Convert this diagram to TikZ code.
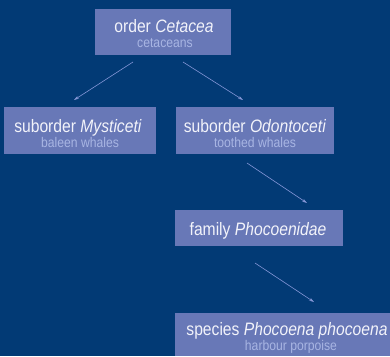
\documentclass[tikz,border=0pt]{standalone}
\usepackage{fontspec}
\setmainfont{Liberation Sans}[FakeStretch=0.87]
\usetikzlibrary{arrows.meta}
\definecolor{bg}{HTML}{023A75}
\definecolor{boxc}{HTML}{6878B7}
\definecolor{subc}{HTML}{A8B5E3}
\definecolor{titc}{HTML}{F2F3FA}
\definecolor{arrc}{HTML}{8496D6}
\tikzset{
  taxbox/.style={fill=boxc, draw=none, rectangle, inner sep=0pt},
  taxtitle/.style={anchor=base, text=titc, font=\fontsize{18}{20}\selectfont, inner sep=0pt},
  taxsub/.style={anchor=base, text=subc, font=\fontsize{14}{16}\selectfont, inner sep=0pt},
  link/.style={draw=arrc, line width=0.6pt, -{Stealth[length=5pt,width=3pt]}}
}
\begin{document}
\begin{tikzpicture}[x=1pt, y=-1pt]
\useasboundingbox (0,0) rectangle (390,356);
\fill[bg] (0,0) rectangle (390,356);
% boxes
\node[taxbox, minimum width=136pt, minimum height=46pt] (order) at (163,32) {};
\node[taxbox, minimum width=152pt, minimum height=47pt] (myst) at (80,130.5) {};
\node[taxbox, minimum width=158pt, minimum height=47pt] (odon) at (255,130.5) {};
\node[taxbox, minimum width=168pt, minimum height=36pt] (fam) at (259,228) {};
\node[taxbox, minimum width=224pt, minimum height=43pt] (spec) at (287,334.5) {};
% texts
\node[taxtitle] (ordert) at (164,32) {order \textit{Cetacea}};
\node[taxsub] (orders) at (165,47) {cetaceans};
\node[taxtitle] (mystt) at (78,132) {suborder \textit{Mysticeti}};
\node[taxsub] (mysts) at (80,147) {baleen whales};
\node[taxtitle] (odont) at (255,132) {suborder \textit{Odontoceti}};
\node[taxsub] (odons) at (255,147) {toothed whales};
\node[taxtitle] (famt) at (258,235) {family \textit{Phocoenidae}};
\node[taxtitle] (spect) at (287,335) {species \textit{Phocoena phocoena}};
\node[taxsub] (specs) at (291,350) {harbour porpoise};
% connectors
\coordinate (a1s) at (133,62); \coordinate (a1e) at (74,100);
\coordinate (a2s) at (183,62); \coordinate (a2e) at (243,100);
\coordinate (a3s) at (247,163); \coordinate (a3e) at (307,203);
\coordinate (a4s) at (255,263); \coordinate (a4e) at (314,302);
\draw[link] (a1s) -- (a1e);
\draw[link] (a2s) -- (a2e);
\draw[link] (a3s) -- (a3e);
\draw[link] (a4s) -- (a4e);
\end{tikzpicture}
\end{document}
